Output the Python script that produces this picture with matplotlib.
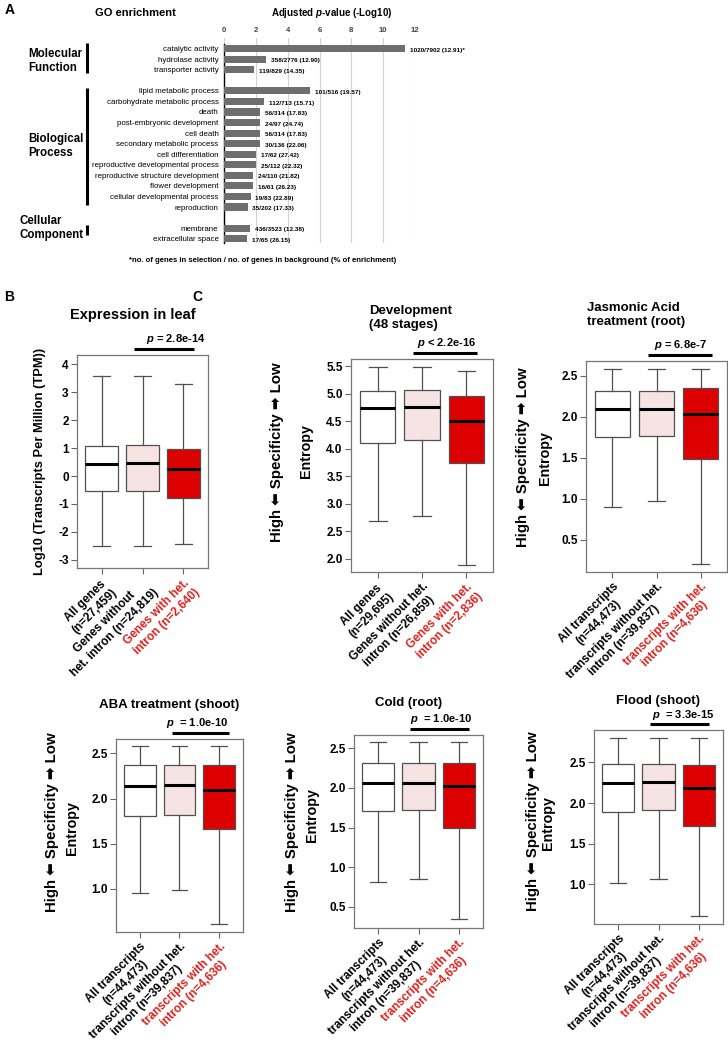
import matplotlib
matplotlib.use("Agg")
import matplotlib.pyplot as plt

W, H = 728, 1048

# ---------------- Panel A : GO enrichment ----------------
mf_terms = ["catalytic activity", "hydrolase activity", "transporter activity"]
mf_logp = [11.4, 2.67, 1.88]
mf_note = ["1020/7902 (12.91)*", "358/2776 (12.90)", "119/829 (14.35)"]

bp_terms = ["lipid metabolic process", "carbohydrate metabolic process", "death",
            "post-embryonic development", "cell death", "secondary metabolic process",
            "cell differentiation", "reproductive developmental process",
            "reproductive structure development", "flower development",
            "cellular developmental process", "reproduction"]
bp_logp = [5.43, 2.5, 2.26, 2.26, 2.26, 2.26, 2.0, 2.0, 1.83, 1.83, 1.67, 1.48]
bp_note = ["101/516 (19.57)", "112/713 (15.71)", "56/314 (17.83)", "24/97 (24.74)",
           "56/314 (17.83)", "30/136 (22.06)", "17/62 (27.42)", "25/112 (22.32)",
           "24/110 (21.82)", "16/61 (26.23)", "19/83 (22.89)", "35/202 (17.33)"]

cc_terms = ["membrane", "extracellular space"]
cc_logp = [1.63, 1.45]
cc_note = ["436/3523 (12.38)", "17/65 (26.15)"]

# ---------------- Box plot panels ----------------
box_colors = ["white", "#f6e3e3", "#dd0000"]
label_colors = ["black", "black", "#e0201c"]

gene_labels_leaf = ["All genes\n(n=27,459)", "Genes without\nhet. intron (n=24,819)",
                    "Genes with het.\nintron (n=2,640)"]
gene_labels_dev = ["All genes\n(n=29,695)", "Genes without het.\nintron (n=26,859)",
                   "Genes with het.\nintron (n=2,836)"]
tx_labels = ["All transcripts\n(n=44,473)", "transcripts without het.\nintron (n=39,837)",
             "transcripts with het.\nintron (n=4,636)"]

# whislo, q1, median, q3, whishi for each of the three groups
leaf_whislo = [-2.52, -2.52, -2.44]
leaf_q1 = [-0.55, -0.53, -0.77]
leaf_med = [0.44, 0.46, 0.25]
leaf_q3 = [1.09, 1.10, 0.98]
leaf_whishi = [3.59, 3.59, 3.30]

dev_whislo = [2.69, 2.77, 1.89]
dev_q1 = [4.11, 4.15, 3.74]
dev_med = [4.74, 4.75, 4.50]
dev_q3 = [5.05, 5.06, 4.96]
dev_whishi = [5.49, 5.49, 5.41]

ja_whislo = [0.90, 0.97, 0.21]
ja_q1 = [1.75, 1.77, 1.49]
ja_med = [2.09, 2.09, 2.03]
ja_q3 = [2.31, 2.31, 2.35]
ja_whishi = [2.58, 2.58, 2.58]

aba_whislo = [0.95, 0.99, 0.61]
aba_q1 = [1.81, 1.82, 1.66]
aba_med = [2.14, 2.15, 2.09]
aba_q3 = [2.37, 2.37, 2.37]
aba_whishi = [2.58, 2.58, 2.58]

cold_whislo = [0.81, 0.85, 0.35]
cold_q1 = [1.71, 1.72, 1.50]
cold_med = [2.06, 2.06, 2.02]
cold_q3 = [2.31, 2.31, 2.31]
cold_whishi = [2.58, 2.58, 2.58]

flood_whislo = [1.01, 1.06, 0.61]
flood_q1 = [1.89, 1.91, 1.72]
flood_med = [2.25, 2.26, 2.18]
flood_q3 = [2.48, 2.48, 2.47]
flood_whishi = [2.80, 2.80, 2.80]

# ---------------- style ----------------
plt.rcParams['font.family'] = ['Liberation Sans', 'DejaVu Sans']
plt.rcParams['font.weight'] = 'bold'
plt.rcParams['axes.labelweight'] = 'bold'
plt.rcParams['mathtext.fontset'] = 'custom'
plt.rcParams['mathtext.it'] = 'Liberation Sans:italic:bold'
plt.rcParams['mathtext.rm'] = 'Liberation Sans:bold'
plt.rcParams['mathtext.bf'] = 'Liberation Sans:bold'

fig = plt.figure(figsize=(W / 100, H / 100), dpi=100)


def px_axes(l, t, r, b):
    return fig.add_axes([l / W, 1 - b / H, (r - l) / W, (b - t) / H])


# overlay in pixel coordinates for free text / lines
ov = fig.add_axes([0, 0, 1, 1], zorder=5)
ov.set_xlim(0, W)
ov.set_ylim(H, 0)
ov.axis('off')

# ---------------- Panel A ----------------
terms = mf_terms + bp_terms + cc_terms
logp = mf_logp + bp_logp + cc_logp
notes = mf_note + bp_note + cc_note
slots = (list(range(len(mf_terms)))
         + [len(mf_terms) + 1 + i for i in range(len(bp_terms))]
         + [len(mf_terms) + len(bp_terms) + 2 + i for i in range(len(cc_terms))])

axA = px_axes(224, 38, 415, 243)
axA.barh(slots, logp, height=0.68, color="#6e6e6e", zorder=3)
axA.set_xlim(0, 12)
axA.set_ylim(18.41, -1.01)
axA.set_yticks(slots)
axA.set_yticklabels(terms, fontsize=5.7, fontweight='normal')
axA.tick_params(axis='y', length=0, pad=4)
axA.xaxis.tick_top()
axA.set_xticks(range(0, 13, 2))
axA.tick_params(axis='x', length=0, labelsize=5.6, labelcolor='#444444', pad=3)
axA.grid(axis='x', color='#d2d2d2', lw=0.8, zorder=0)
for s in ['top', 'right', 'bottom']:
    axA.spines[s].set_visible(False)
axA.spines['left'].set_bounds(-0.45, 18.45)
axA.spines['left'].set_linewidth(1.0)
for s, v, n in zip(slots, logp, notes):
    axA.text(v + 0.3, s + 0.15, n, va='center', ha='left', fontsize=4.6, clip_on=False)

ov.text(5, 10, "A", fontsize=10, ha='left', va='center')
ov.text(95, 13, "GO enrichment", fontsize=8, ha='left', va='center')
ov.text(332, 13, r"Adjusted $p$-value (-Log10)", fontsize=7, ha='center', va='center')
ov.text(263, 260, "*no. of genes in selection / no. of genes in background (% of enrichment)",
        fontsize=5.6, ha='center', va='center')

for txt, x, y in [("Molecular\nFunction", 28, 61), ("Biological\nProcess", 28, 146),
                  ("Cellular\nComponent", 19, 228)]:
    ov.text(x, y, txt, fontsize=8.3, ha='left', va='center', linespacing=1.3)
for y0, y1 in [(43, 73), (88, 205), (225, 235)]:
    ov.plot([87, 87], [y0, y1], color='black', lw=2.2, solid_capstyle='butt')


# ---------------- box plot helper ----------------
def box_panel(rect, whislo, q1, med, q3, whishi, ylim, yticks, labels, fmt, ptext,
              ptext_x=2.55):
    ax = px_axes(*rect)
    stats = [dict(whislo=a, q1=b, med=c, q3=d, whishi=e, fliers=[])
             for a, b, c, d, e in zip(whislo, q1, med, q3, whishi)]
    bp = ax.bxp(stats, positions=[1, 2, 3], widths=0.8, patch_artist=True,
                showfliers=False,
                boxprops=dict(edgecolor='#505050', linewidth=0.9),
                whiskerprops=dict(color='#505050', linewidth=0.9),
                capprops=dict(color='#505050', linewidth=0.9),
                medianprops=dict(color='black', linewidth=2.2))
    for patch, c in zip(bp['boxes'], box_colors):
        patch.set_facecolor(c)
    ax.set_xlim(0.4, 3.6)
    ax.set_ylim(*ylim)
    ax.set_yticks(yticks)
    ax.set_yticklabels([fmt.format(t) for t in yticks])
    ax.set_xticks([1, 2, 3])
    ax.set_xticklabels(labels, rotation=45, ha='right', rotation_mode='anchor',
                       fontsize=8.1, multialignment='center', linespacing=1.2)
    for lab, c in zip(ax.get_xticklabels(), label_colors):
        lab.set_color(c)
    ax.tick_params(direction='out', length=4, width=0.8, color='#666666',
                   labelsize=8.5, pad=2)
    for s in ax.spines.values():
        s.set_color('#777777')
        s.set_linewidth(0.9)
    # p-value bracket above the 2nd and 3rd groups
    hpx = rect[3] - rect[1]
    yb = 1 + 6.5 / hpx
    ax.plot([1.8, 3.25], [yb, yb], color='black', lw=2.2,
            transform=ax.get_xaxis_transform(), clip_on=False, solid_capstyle='butt')
    ax.text(ptext_x, yb + 2 / hpx, ptext, transform=ax.get_xaxis_transform(),
            ha='center', va='bottom', fontsize=8)
    return ax


axB = box_panel((77, 355, 208, 568), leaf_whislo, leaf_q1, leaf_med, leaf_q3, leaf_whishi,
                (-3.29, 4.33), range(-3, 5), gene_labels_leaf, "{:d}",
                r"$p$ = 2.8e-14", ptext_x=2.8)
axB.set_ylabel("Log10 (Transcripts Per Million (TPM))", fontsize=9.3)
axB.yaxis.set_label_coords(-31 / 131, 0.5)

dev_ticks = [2.0, 2.5, 3.0, 3.5, 4.0, 4.5, 5.0, 5.5]
box_panel((351, 359, 493, 572), dev_whislo, dev_q1, dev_med, dev_q3, dev_whishi,
          (1.76, 5.63), dev_ticks, gene_labels_dev, "{:.1f}", r"$p$ < 2.2e-16")
box_panel((586, 361, 727, 572), ja_whislo, ja_q1, ja_med, ja_q3, ja_whishi,
          (0.11, 2.68), [0.5, 1.0, 1.5, 2.0, 2.5], tx_labels, "{:.1f}", r"$p$ = 6.8e-7")
box_panel((116, 739, 243, 932), aba_whislo, aba_q1, aba_med, aba_q3, aba_whishi,
          (0.52, 2.66), [1.0, 1.5, 2.0, 2.5], tx_labels, "{:.1f}", r"$p$  = 1.0e-10",
          ptext_x=2.45)
box_panel((354, 735, 483, 928), cold_whislo, cold_q1, cold_med, cold_q3, cold_whishi,
          (0.23, 2.67), [0.5, 1.0, 1.5, 2.0, 2.5], tx_labels, "{:.1f}", r"$p$  = 1.0e-10")
box_panel((594, 730, 723, 924), flood_whislo, flood_q1, flood_med, flood_q3, flood_whishi,
          (0.51, 2.90), [1.0, 1.5, 2.0, 2.5], tx_labels, "{:.1f}", r"$p$  = 3.3e-15",
          ptext_x=2.6)

# entropy y labels
spec = "High \u2b05 Specificity \u27a1 Low"
for xs, ys, xe, ye in [(277, 452, 306, 451), (523, 457, 545, 458), (52, 822, 72, 828),
                       (292, 822, 312, 815), (533, 821, 548, 823)]:
    ov.text(xs, ys, spec, rotation=90, fontsize=10.8, ha='center', va='center')
    ov.text(xe, ye, "Entropy", rotation=90, fontsize=10.3, ha='center', va='center')

# titles and panel letters
ov.text(4, 297, "B", fontsize=10, ha='left', va='center')
ov.text(192, 297, "C", fontsize=10, ha='left', va='center')
ov.text(133, 315, "Expression in leaf", fontsize=10.5, ha='center', va='center')
ov.text(369, 318, "Development\n(48 stages)", fontsize=9.5, ha='left', va='center',
        linespacing=1.2)
ov.text(587, 315, "Jasmonic Acid\ntreatment (root)", fontsize=9.5, ha='left', va='center',
        linespacing=1.2)
ov.text(169, 705, "ABA treatment (shoot)", fontsize=9.5, ha='center', va='center')
ov.text(409, 703, "Cold (root)", fontsize=9.5, ha='center', va='center')
ov.text(658, 701, "Flood (shoot)", fontsize=9.5, ha='center', va='center')

fig.savefig("out.png", dpi=100)
